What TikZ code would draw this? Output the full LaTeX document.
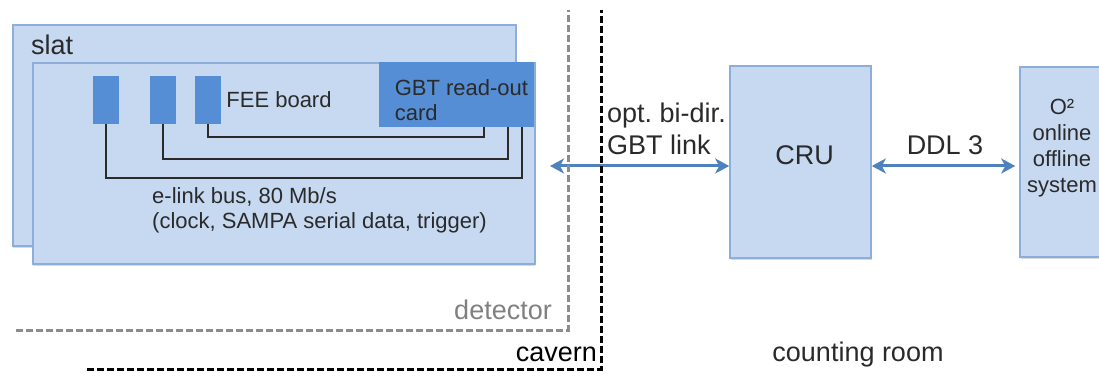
\documentclass[tikz,border=0pt]{standalone}
\usepackage{fontspec}
\setmainfont{Liberation Sans}
\usepackage{tikz}
\usetikzlibrary{positioning, arrows.meta, shadows}

\definecolor{lightblue}{HTML}{C6D9F1}
\definecolor{edgeblue}{HTML}{8EAEDA}
\definecolor{darkblue}{HTML}{558ED5}
\definecolor{arrowblue}{HTML}{4F81BD}
\definecolor{txtgray}{HTML}{2A2A2A}

\begin{document}
\frenchspacing
\begin{tikzpicture}[x=1pt, y=1pt,
    box/.style = {draw=edgeblue, fill=lightblue, line width=1.6pt, inner sep=0pt, drop shadow={shadow xshift=0.5pt, shadow yshift=-2pt, opacity=0.3}},
    darkbox/.style = {fill=darkblue, inner sep=0pt},
    fee/.style = {darkbox, minimum width=26pt, minimum height=48pt},
    smalltxt/.style = {text=txtgray, font=\fontsize{22}{25}\selectfont, inner sep=0pt},
    bigtxt/.style = {text=txtgray, font=\fontsize{27}{32}\selectfont, inner sep=0pt},
    bus/.style = {draw=txtgray, line width=2pt},
    link/.style = {draw=arrowblue, line width=3pt, {Stealth[length=14pt, width=15pt, inset=4pt]}-{Stealth[length=14pt, width=15pt, inset=4pt]}},
    zone/.style = {line width=3pt, dash pattern=on 7pt off 3pt}]
    \clip (0,0) rectangle (1099,372);

    % 方框
    \node[box, minimum width=503pt, minimum height=221pt, anchor=north west] (slatback) at (12,348) {};
    \node[bigtxt, anchor=west] (slatlbl) at (31,327) {slat};
    \node[box, minimum width=502pt, minimum height=201pt, anchor=north west] (slat) at (32,310) {};
    \node[darkbox, minimum width=155pt, minimum height=65pt, anchor=north east] (card) at (534,310) {};
    \node[smalltxt, anchor=west, align=left] (cardlbl) at ([xshift=16pt, yshift=-5pt]card.west) {GBT read-out\\card};
    \node[fee] (fee1) at (106,272) {};
    \node[fee] (fee2) at (162.5,272) {};
    \node[fee] (fee3) at (208,272) {};
    \node[smalltxt, right=5pt of fee3] (feelbl) {FEE board};
    \node[smalltxt, anchor=west, align=left] (buslbl) at (152,161.5) {e-link bus, 80 Mb/s\\(clock, SAMPA serial data, trigger)};

    \node[box, minimum width=141pt, minimum height=192pt] (cru) at (800.5,210) {};
    \node[bigtxt] (crulbl) at ([xshift=4pt, yshift=7pt]cru.center) {CRU};
    \node[box, minimum width=84pt, minimum height=190pt] (otwo) at (1062,210) {};
    \node[smalltxt, align=center, font=\fontsize{22}{26}\selectfont] (otwolbl) at ([yshift=13.5pt]otwo.center) {O²\\online\\offline\\system};

    % 连线
    \draw[bus] (fee3.south) -- ++(0,-13) -| ([xshift=-50pt]card.south east);
    \draw[bus] (fee2.south) -- ++(0,-35) -| ([xshift=-26pt]card.south east);
    \draw[bus] (fee1.south) -- ++(0,-54) -| ([xshift=-12pt]card.south east);

    \coordinate (gbtend) at (550,206);
    \draw[link] (gbtend) -- (gbtend -| cru.west);
    \draw[link, shorten >=4pt] (gbtend -| cru.east) -- (gbtend -| otwo.west);
    \node[bigtxt, anchor=west, align=left] (gbtlbl) at (607,243) {opt. bi-dir.\\GBT link};
    \node[bigtxt] (ddllbl) at (945,227) {DDL 3};

    % 区域
    \draw[zone, draw=black!45] (16,42) -| (568,362);
    \node[bigtxt, text=black!50, anchor=east] (detlbl) at (552,62) {detector};
    \draw[zone, draw=black] (87,3) -| (601,362);
    \node[bigtxt, text=black, anchor=east] (cavlbl) at (597,18) {cavern};
    \node[bigtxt] (roomlbl) at (858,17) {counting room};
\end{tikzpicture}
\end{document}
